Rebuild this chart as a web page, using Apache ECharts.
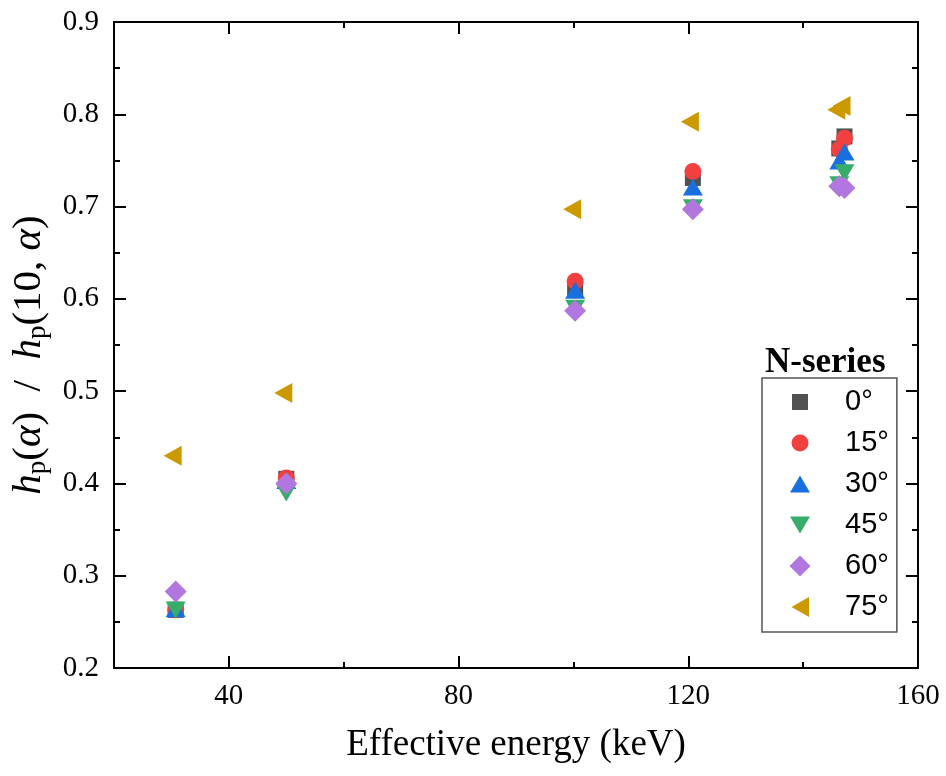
<!DOCTYPE html>
<html>
<head>
<meta charset="utf-8">
<script src="https://cdn.jsdelivr.net/npm/echarts@6/dist/echarts.min.js"></script>
<style>
  html, body { margin: 0; padding: 0; background: #fff; }
  #chart { width: 946px; height: 776px; }
</style>
</head>
<body>
<div id="chart"></div>
<script>
// energies (keV) of the six measurement points
const energy = [30.74, 50.0, 100.3, 120.8, 146.3, 147.2]
const angles = ['0°', '15°', '30°', '45°', '60°', '75°']
// hp(a) / hp(10, a) for each incidence angle
const ratio0 = [0.263, 0.405, 0.611, 0.731, 0.763, 0.776]
const ratio15 = [0.263, 0.406, 0.619, 0.738, 0.762, 0.774]
const ratio30 = [0.261, 0.400, 0.606, 0.718, 0.746, 0.756]
const ratio45 = [0.266, 0.393, 0.593, 0.702, 0.727, 0.740]
const ratio60 = [0.283, 0.400, 0.587, 0.697, 0.722, 0.720]
const ratio75 = [0.430, 0.498, 0.697, 0.792, 0.805, 0.809]
const xMajor = [40, 80, 120, 160]
const xMinor = [60, 100, 140]
const yTicks = [0.2, 0.3, 0.4, 0.5, 0.6, 0.7, 0.8, 0.9]

const serif = 'Liberation Serif'
const colors = ['#515151', '#F14040', '#1A6FDF', '#37AD6B', '#B177DE', '#CC9900']
const marks = [
    { symbol: 'rect', size: 16, rotate: 0, offset: [0, 0] },
    { symbol: 'circle', size: 17, rotate: 0, offset: [0, 0] },
    { symbol: 'triangle', size: [20, 17], rotate: 0, offset: [0, -3] },
    { symbol: 'triangle', size: [20, 17], rotate: 180, offset: [0, 3] },
    { symbol: 'diamond', size: 22, rotate: 0, offset: [0, 0] },
    { symbol: 'triangle', size: [20, 18], rotate: 90, offset: [-3, 0] },
]
// legend icons drawn in a fixed 22x22 box (first two moves pin the box)
const box = 'path://M0,0 M22,22 '
const legendIcons = [
    box + 'M3,3 L19,3 L19,19 L3,19 Z',
    box + 'M2.5,11 A8.5,8.5 0 1,1 19.5,11 A8.5,8.5 0 1,1 2.5,11 Z',
    box + 'M1,19.5 L21,19.5 L11,2.5 Z',
    box + 'M1,2.5 L21,2.5 L11,19.5 Z',
    box + 'M11,0.5 L21.5,11 L11,21.5 L0.5,11 Z',
    box + 'M2.5,11 L20,1 L20,21 Z'
]
const allRatios = [ratio0, ratio15, ratio30, ratio45, ratio60, ratio75]

const chart = echarts.init(document.getElementById('chart'))

const frameLine = { show: true, lineStyle: { color: '#000', width: 2 } }
const xAxisBase = { type: 'value', min: 20, max: 160, gridIndex: 0, splitLine: { show: false } }

const series = angles.map((name, i) => ({
    name: name,
    type: 'scatter',
    data: energy.map((e, k) => [e, allRatios[i][k]]),
    symbol: marks[i].symbol,
    symbolSize: marks[i].size,
    symbolRotate: marks[i].rotate,
    symbolOffset: marks[i].offset,
    itemStyle: { color: colors[i], opacity: 1 },
    emphasis: { disabled: true },
    z: 3 + i
}))

chart.setOption({
    animation: false,
    grid: { left: 114, right: 28, top: 22, bottom: 108, containLabel: false },
    xAxis: [
        Object.assign({}, xAxisBase, {
            position: 'bottom',
            axisLine: frameLine,
            axisTick: { show: true, inside: true, length: 12, lineStyle: { color: '#000', width: 2 }, customValues: xMajor },
            axisLabel: { show: true, customValues: xMajor, margin: 14, color: '#000', fontFamily: serif, fontSize: 29 },
            name: 'Effective energy (keV)',
            nameLocation: 'middle',
            nameGap: 59,
            nameTextStyle: { color: '#000', fontFamily: serif, fontSize: 37 }
        }),
        Object.assign({}, xAxisBase, {
            position: 'bottom',
            axisLine: { show: false },
            axisTick: { show: true, inside: true, length: 6, lineStyle: { color: '#000', width: 2 }, customValues: xMinor },
            axisLabel: { show: false }
        }),
        Object.assign({}, xAxisBase, {
            position: 'top',
            axisLine: frameLine,
            axisTick: { show: true, inside: true, length: 12, lineStyle: { color: '#000', width: 2 }, customValues: xMajor },
            axisLabel: { show: false }
        }),
        Object.assign({}, xAxisBase, {
            position: 'top',
            axisLine: { show: false },
            axisTick: { show: true, inside: true, length: 6, lineStyle: { color: '#000', width: 2 }, customValues: xMinor },
            axisLabel: { show: false }
        })
    ],
    yAxis: [
        {
            type: 'value', min: 0.2, max: 0.9, interval: 0.1, position: 'left',
            splitLine: { show: false },
            axisLine: frameLine,
            axisTick: { show: true, inside: true, length: 12, lineStyle: { color: '#000', width: 2 } },
            minorTick: { show: true, splitNumber: 2, length: 6, lineStyle: { color: '#000', width: 2 } },
            axisLabel: {
                show: true, margin: 15, color: '#000', fontFamily: serif, fontSize: 29,
                customValues: yTicks,
                formatter: v => v.toFixed(1)
            },
            name: '{i|h}{s|p}{n|(}{i|α}{n|)  /  }{i|h}{s|p}{n|(10, }{i|α}{n|)}',
            nameLocation: 'middle',
            nameRotate: 90,
            nameGap: 62,
            nameTextStyle: {
                color: '#000', fontFamily: serif, fontSize: 41,
                padding: [0, 20, 0, 0],
                rich: {
                    i: { fontFamily: serif, fontSize: 41, fontStyle: 'italic', color: '#000', lineHeight: 46 },
                    n: { fontFamily: serif, fontSize: 41, color: '#000', lineHeight: 46 },
                    s: { fontFamily: serif, fontSize: 27, color: '#000', lineHeight: 20, verticalAlign: 'bottom' }
                }
            }
        },
        {
            type: 'value', min: 0.2, max: 0.9, interval: 0.1, position: 'right',
            splitLine: { show: false },
            axisLine: frameLine,
            axisTick: { show: true, inside: true, length: 12, lineStyle: { color: '#000', width: 2 } },
            minorTick: { show: true, splitNumber: 2, length: 6, lineStyle: { color: '#000', width: 2 } },
            axisLabel: { show: false }
        }
    ],
    legend: {
        data: angles.map((name, i) => ({ name: name, icon: legendIcons[i] })),
        orient: 'vertical',
        left: 762,
        top: 378,
        padding: [9, 8, 10, 27],
        itemWidth: 22,
        itemHeight: 22,
        itemGap: 11,
        borderColor: '#555',
        borderWidth: 1.5,
        borderRadius: 0,
        backgroundColor: '#fff',
        textStyle: { color: '#000', fontFamily: 'Liberation Sans', fontSize: 29, lineHeight: 30, padding: [0, 0, 0, 29] }
    },
    graphic: [
        {
            type: 'text',
            left: 765,
            top: 345,
            style: { text: 'N-series', fill: '#000', font: 'bold 35px "Liberation Serif"' }
        }
    ],
    series: series
})
</script>
</body>
</html>
